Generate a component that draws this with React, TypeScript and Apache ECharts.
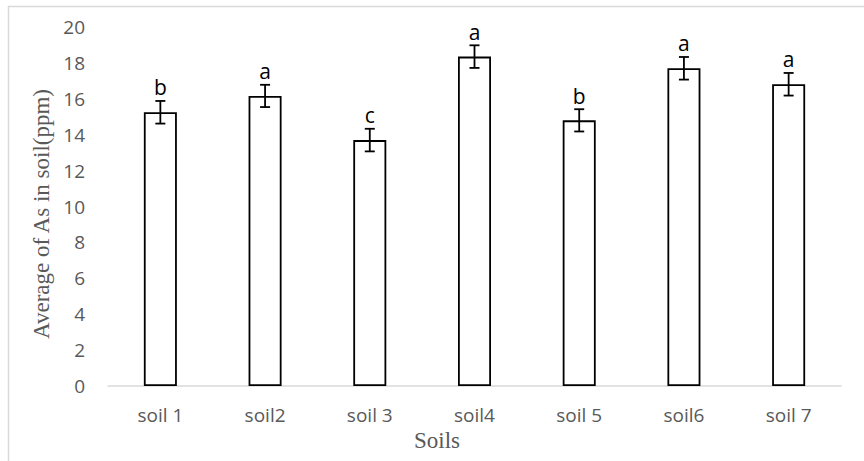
import React, { useEffect, useRef } from "react";
import * as echarts from "echarts";

const categories = ["soil 1", "soil2", "soil 3", "soil4", "soil 5", "soil6", "soil 7"];
const means = [15.25, 16.16, 13.7, 18.35, 14.8, 17.7, 16.81];
const errors = [0.63, 0.62, 0.63, 0.63, 0.62, 0.63, 0.63];
const letters = ["b", "a", "c", "a", "b", "a", "a"];
const yTicks = { min: 0, max: 20, interval: 2 };

const SANS = "'Open Sans', 'Noto Sans', sans-serif";
const SERIF = "'Liberation Serif', 'DejaVu Serif', serif";
const GREY = "#595959";

export default function App() {
  const ref = useRef<HTMLDivElement>(null);

  useEffect(() => {
    if (!ref.current) return;
    const chart = echarts.init(ref.current, undefined, { renderer: "svg" });
    const errData = means.map((m, i) => [i, m, errors[i]]);
    chart.setOption({
      animation: false,
      backgroundColor: "#ffffff",
      grid: { left: 108, right: 23, top: 27, bottom: 75, containLabel: false },
      xAxis: {
        type: "category",
        data: categories,
        axisLine: { show: true, lineStyle: { color: "#d9d9d9", width: 1.5 } },
        axisTick: { show: false },
        axisLabel: { color: GREY, fontSize: 19, fontFamily: SANS, margin: 19 },
        splitLine: { show: false },
      },
      yAxis: {
        type: "value",
        min: yTicks.min,
        max: yTicks.max,
        interval: yTicks.interval,
        axisLine: { show: false },
        axisTick: { show: false },
        splitLine: { show: false },
        axisLabel: { color: GREY, fontSize: 19, fontFamily: SANS, margin: 23 },
      },
      graphic: [
        {
          type: "line",
          shape: { x1: 8, y1: 6.5, x2: 864, y2: 6.5 },
          style: { stroke: "#d9d9d9", lineWidth: 1.5 },
          silent: true,
        },
        {
          type: "line",
          shape: { x1: 8.5, y1: 6, x2: 8.5, y2: 461 },
          style: { stroke: "#d9d9d9", lineWidth: 1.5 },
          silent: true,
        },
        {
          type: "text",
          x: 41,
          y: 214,
          rotation: Math.PI / 2,
          style: {
            text: "Average of As in soil(ppm)",
            fontSize: 23,
            fontFamily: SERIF,
            fill: GREY,
            align: "center",
            verticalAlign: "middle",
          },
        },
        {
          type: "text",
          x: 437,
          y: 440,
          style: {
            text: "Soils",
            fontSize: 23,
            fontFamily: SERIF,
            fill: GREY,
            align: "center",
            verticalAlign: "middle",
          },
        },
      ],
      series: [
        {
          type: "bar",
          data: means,
          barWidth: 33,
          itemStyle: { color: "#ffffff", borderColor: "#000000", borderWidth: 1.8 },
          z: 2,
        },
        {
          type: "custom",
          data: errData,
          z: 3,
          renderItem: (params: any, api: any) => {
            const x = api.value(0);
            const m = api.value(1);
            const e = api.value(2);
            const top = api.coord([x, m + e]);
            const bot = api.coord([x, m - e]);
            const hw = 5;
            const st = { stroke: "#000000", lineWidth: 1.8 };
            return {
              type: "group",
              children: [
                { type: "line", shape: { x1: top[0], y1: top[1], x2: bot[0], y2: bot[1] }, style: st },
                { type: "line", shape: { x1: top[0] - hw, y1: top[1], x2: top[0] + hw, y2: top[1] }, style: st },
                { type: "line", shape: { x1: bot[0] - hw, y1: bot[1], x2: bot[0] + hw, y2: bot[1] }, style: st },
                {
                  type: "text",
                  x: top[0],
                  y: top[1] - 3,
                  style: {
                    text: letters[params.dataIndex],
                    fontSize: 21,
                    fontFamily: SANS,
                    fill: "#000000",
                    align: "center",
                    verticalAlign: "bottom",
                  },
                },
              ],
            };
          },
        },
      ],
    });
    return () => chart.dispose();
  }, []);

  return (
    <div
      ref={ref}
      style={{ position: "fixed", left: 0, top: 0, width: 864, height: 461, background: "#fff" }}
    />
  );
}
